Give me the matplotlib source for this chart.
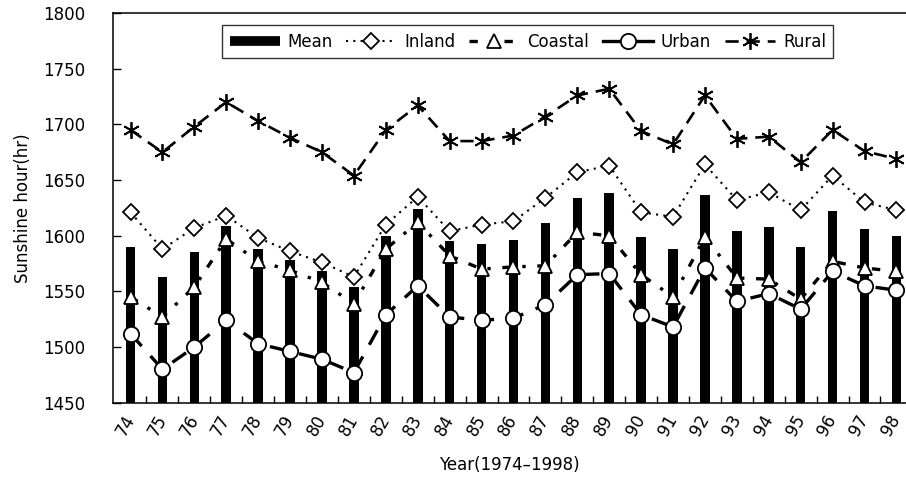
import matplotlib
matplotlib.use('Agg')
import matplotlib.pyplot as plt
import numpy as np
from matplotlib.lines import Line2D
from matplotlib.ticker import MultipleLocator

# sunshine hours 1974-1998
years = ['74', '75', '76', '77', '78', '79', '80', '81', '82', '83', '84', '85', '86',
         '87', '88', '89', '90', '91', '92', '93', '94', '95', '96', '97', '98']
mean = [1590, 1563, 1585, 1609, 1588, 1578, 1568, 1554, 1600, 1624, 1595, 1593, 1596,
        1611, 1634, 1638, 1599, 1588, 1637, 1604, 1608, 1590, 1622, 1606, 1600]
inland = [1621, 1588, 1607, 1618, 1598, 1586, 1576, 1563, 1610, 1635, 1604, 1610, 1613,
          1634, 1657, 1663, 1621, 1617, 1664, 1632, 1639, 1623, 1654, 1630, 1623]
coastal = [1545, 1527, 1554, 1597, 1577, 1569, 1558, 1539, 1588, 1612, 1582, 1570, 1572,
           1573, 1603, 1600, 1565, 1545, 1599, 1562, 1561, 1543, 1577, 1571, 1568]
urban = [1512, 1480, 1500, 1524, 1503, 1496, 1489, 1477, 1529, 1555, 1527, 1524, 1526,
         1538, 1565, 1566, 1529, 1518, 1571, 1541, 1548, 1534, 1568, 1555, 1551]
rural = [1695, 1675, 1698, 1720, 1703, 1688, 1675, 1654, 1695, 1717, 1685, 1685, 1690,
         1707, 1726, 1732, 1694, 1682, 1726, 1687, 1689, 1666, 1695, 1676, 1669]

plt.rcParams['font.family'] = 'DejaVu Sans'
plt.rcParams['font.size'] = 12

fig = plt.figure(figsize=(9.06, 4.84), dpi=100)
ax = fig.add_axes([0.1247, 0.168, 0.8753, 0.805])

x = np.arange(len(years))
base = 1450

# line styles (shared by plot and legend)
inl = dict(color='black', lw=1.5, linestyle=(0, (1, 2.5)), marker='D',
           ms=8.5, mfc='white', mec='black', mew=1.3)
coa = dict(color='black', lw=2.4, linestyle=(0, (2.5, 3.5, 1, 3.5)), marker='^',
           ms=10, mfc='white', mec='black', mew=1.3)
urb = dict(color='black', lw=2.4, linestyle=(0, (5, 4)), marker='o',
           ms=11, mfc='white', mec='black', mew=1.3)
rur = dict(color='black', lw=1.9, linestyle=(0, (5, 3)), marker=(6, 2, 0),
           ms=12, mec='black', mew=1.3)

ax.bar(x, np.array(mean) - base, bottom=base, width=0.3, color='black', zorder=2)
ax.plot(x, inland, zorder=3, **inl)
ax.plot(x, coastal, zorder=3, **coa)
ax.plot(x, urban, zorder=4, **urb)
ax.plot(x, rural, zorder=3, **rur)

ax.set_xlim(-0.55, 24.3)
ax.set_ylim(1450, 1800)
ax.yaxis.set_major_locator(MultipleLocator(50))
ax.set_xticks(x)
ax.set_xticklabels(years, rotation=60, ha='right', va='center', rotation_mode='anchor')
ax.set_xticks(x[:-1] + 0.5, minor=True)
ax.tick_params(axis='x', which='major', length=0, pad=10)
ax.tick_params(axis='x', which='minor', direction='in', length=5, width=1)
ax.tick_params(axis='y', direction='in', length=6, width=1, pad=20)
ax.spines['right'].set_visible(False)
for s in ['left', 'top', 'bottom']:
    ax.spines[s].set_linewidth(1.1)

ax.set_ylabel('Sunshine hour(hr)', labelpad=8)
ax.set_xlabel('Year(1974\u20131998)', labelpad=12)

handles = [
    Line2D([], [], color='black', lw=7, solid_capstyle='butt'),
    Line2D([], [], **inl),
    Line2D([], [], **coa),
    Line2D([], [], **dict(urb, linestyle='-')),
    Line2D([], [], **rur),
]
labels = ['Mean', 'Inland', 'Coastal', 'Urban', 'Rural']
leg = ax.legend(handles, labels, ncol=5, loc='upper center', bbox_to_anchor=(0.523, 0.99),
                frameon=True, fancybox=False, edgecolor='black', handlelength=3.0,
                columnspacing=0.8, handletextpad=0.5, borderpad=0.45, fontsize=12)
leg.get_frame().set_linewidth(1.0)

plt.savefig('out.png', dpi=100)
